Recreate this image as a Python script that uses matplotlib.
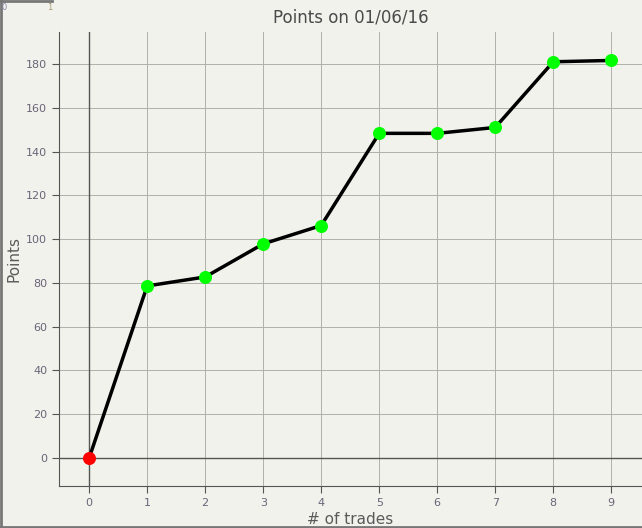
import numpy as np
import matplotlib.pyplot as plt

trades = [0, 1, 2, 3, 4, 5, 6, 7, 8, 9]
points = [0, 78.6, 82.7, 97.8, 106.2, 148.3, 148.3, 151.0, 181.0, 181.6]

bg = '#f2f2ec'
tick_col = '#6a6478'

fig = plt.figure(figsize=(6.42, 5.28), dpi=100, facecolor=bg)
ax = fig.add_axes([59/642, 1 - 486/528, (642 - 59)/642, (486 - 32)/528])
ax.set_facecolor(bg)

ax.grid(True, color='#b0b0a8', linewidth=0.7)
ax.set_axisbelow(True)
ax.axhline(0, color='#555555', linewidth=1, zorder=1)
ax.axvline(0, color='#555555', linewidth=1, zorder=1)

ax.plot(trades, points, color='black', linewidth=2.5, zorder=2)
ax.scatter(trades[1:], points[1:], s=70, color='#00ff00', zorder=3)
ax.scatter(trades[:1], points[:1], s=70, color='#ff0000', zorder=3)

ax.set_xlim(-0.52, 9.53)
ax.set_ylim(-12.8, 194.6)
ax.set_xticks(trades)
ax.set_yticks(np.arange(0, 181, 20))
ax.tick_params(colors='#555555', labelcolor=tick_col, labelsize=8, length=5, width=0.8)

for s in ['top', 'right']:
    ax.spines[s].set_visible(False)
for s in ['left', 'bottom']:
    ax.spines[s].set_color('#555555')

ax.set_title('Points on 01/06/16', color='#4a4a4a', fontsize=12, pad=7)
ax.set_xlabel('# of trades', color='#5a5a5a', fontsize=11, labelpad=3)
ax.set_ylabel('Points', color='#5a5a5a', fontsize=11, labelpad=3)

# figure frame on left and bottom
fig.add_artist(plt.Line2D([0.002, 0.002], [0, 1], transform=fig.transFigure, color='#777777', linewidth=2))
fig.add_artist(plt.Line2D([0, 1], [0.002, 0.002], transform=fig.transFigure, color='#777777', linewidth=2))
fig.add_artist(plt.Line2D([0, 52/642], [0.998, 0.998], transform=fig.transFigure, color='#777777', linewidth=2))
fig.text(1/642, 1 - 8/528, '0', fontsize=6, color='#8888aa', ha='left', va='center')
fig.text(50/642, 1 - 8/528, '1', fontsize=6, color='#aa9977', ha='center', va='center')

fig.savefig('out.png', dpi=100, facecolor=bg)
